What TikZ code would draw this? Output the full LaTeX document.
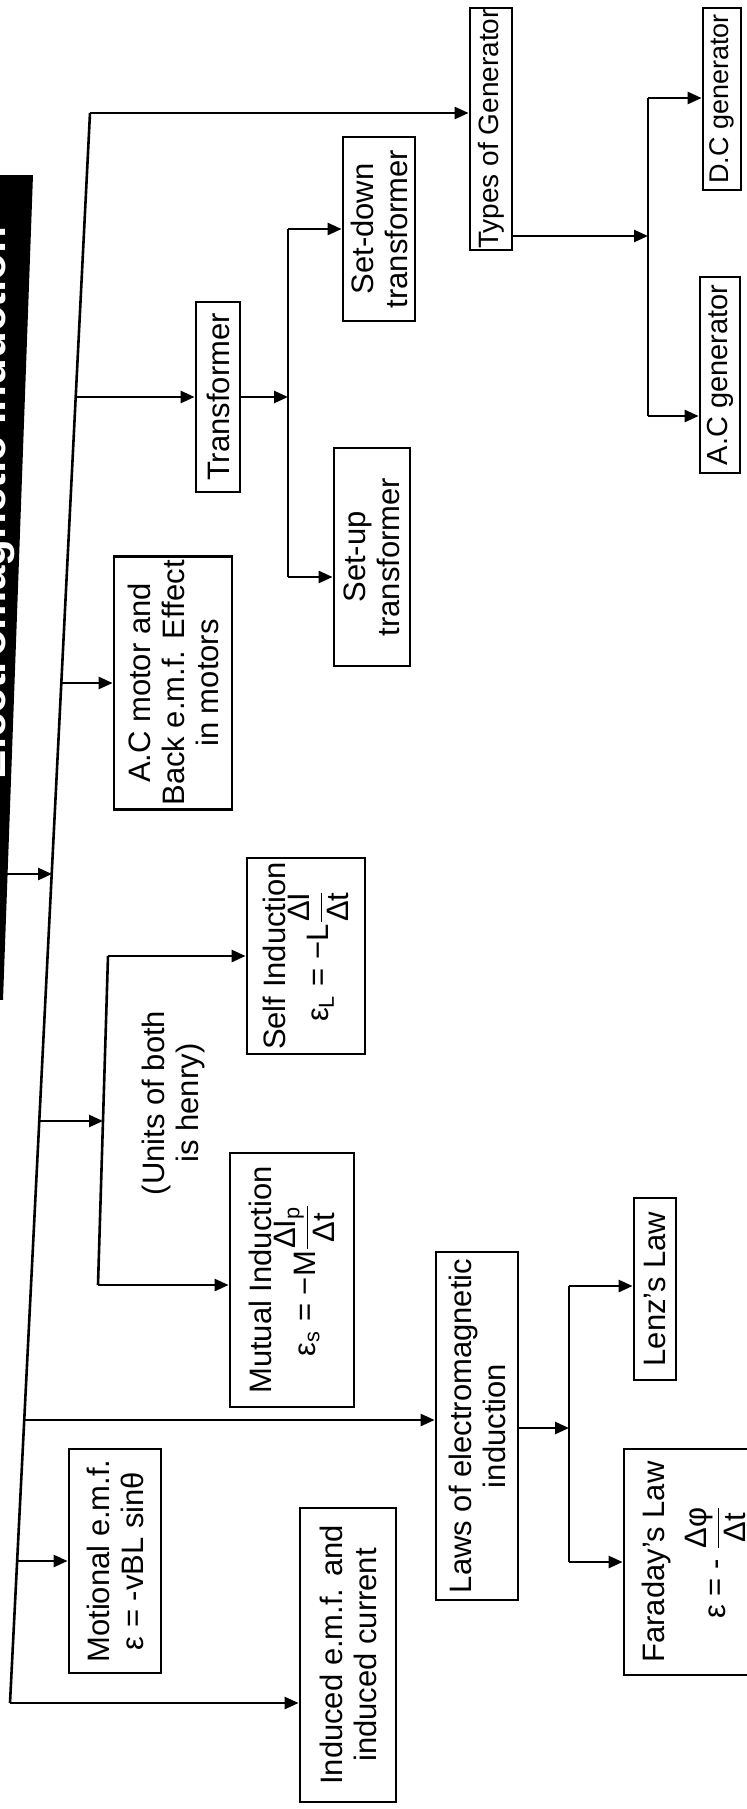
\documentclass[tikz,border=0pt]{standalone}
\usepackage{amsmath}
\usepackage{fontspec}
\setmainfont{Liberation Sans}
\usetikzlibrary{arrows.meta,calc}
\newcommand{\boxfont}{\fontsize{15.5}{17}\selectfont}
\newcommand{\dfr}[2]{\ensuremath{\dfrac{\mbox{#1}}{\mbox{#2}}}}

\begin{document}
\begin{tikzpicture}[x=0.5pt, y=-0.5pt,
  box/.style={draw, line width=1.4pt, rotate=90, align=center, inner sep=2pt, font=\boxfont},
  wire/.style={line width=1.3pt},
  arr/.style={-{Triangle[length=7pt,width=6pt]}, line width=1.3pt}
]
\useasboundingbox (0,0) rectangle (747,1809);

% title strip on the left edge, only a sliver of its text shows
\begin{scope}
\clip (0,175) -- (33,175) -- (3,1000) -- (0,1000) -- cycle;
\fill[black] (0,175) rectangle (40,1000);
\node[rotate=90, inner sep=0pt, text=white, font=\bfseries\fontsize{22}{22}\selectfont] (title) at (-6,503) {Electromagnetic Induction};
\end{scope}
\coordinate (tarr) at (6,874);

% main trunk
\coordinate (ttop) at (90,113);
\coordinate (tbot) at (10,1703);
\draw[wire] (ttop) -- (tbot);

\node[box, inner sep=0.5pt, font=\fontsize{14}{15}\selectfont, minimum width=121pt, minimum height=21pt] (tgen) at (491,129) {Types of Generator};
\node[box, inner sep=0.5pt, font=\fontsize{13.5}{15}\selectfont, minimum width=91pt, minimum height=19pt] (dcgen) at (722,99) {D.C generator};
\node[box, inner sep=0.5pt, font=\fontsize{14.5}{15}\selectfont, minimum width=98pt, minimum height=20pt] (acgen) at (720,375) {A.C generator};
\node[box, minimum width=95pt, minimum height=22pt] (trans) at (218,397) {Transformer};
\node[box, minimum width=92pt, minimum height=36pt] (setdown) at (379,229) {Set-down\\transformer};
\node[box, minimum width=109pt, minimum height=38pt] (setup) at (372,557) {Set-up\\transformer};
\node[box, minimum width=123pt, minimum height=59pt] (motor) at (173,683) {A.C motor and\\Back e.m.f. Effect\\in motors};
\node[box, minimum width=95pt, minimum height=59pt] (self) at (306,956) {Self Induction\\ε\textsubscript{L} = −L\dfr{ΔI}{Δt}};
\node[box, minimum width=127pt, minimum height=62pt] (mutual) at (292,1280) {Mutual Induction\\ε\textsubscript{s} = −M\dfr{ΔI\textsubscript{p}}{Δt}};
\node[box, minimum width=174pt, minimum height=41pt] (laws) at (477,1426) {Laws of electromagnetic\\induction};
\node[box, minimum width=91pt, minimum height=21pt] (lenz) at (655,1289) {Lenz’s Law};
\node[box, minimum width=113pt, minimum height=70pt] (faraday) at (694,1562) {Faraday’s Law\\[6pt]ε = - \dfr{Δφ}{Δt}};
\node[box, minimum width=112pt, minimum height=46pt] (motional) at (115,1561) {Motional e.m.f.\\ε = -vBL sinθ};
\node[box, minimum width=147pt, minimum height=48pt] (induced) at (348,1655) {Induced e.m.f. and\\induced current};
\node[rotate=90, align=center, font=\boxfont] (units) at (173,1103) {(Units of both\\is henry)};

% branches off the trunk
\coordinate (bT) at (76,397);
\coordinate (bM) at (61,683);
\coordinate (bTi) at (52,874);
\coordinate (bU) at (39,1121);
\coordinate (bL) at (24,1420);
\coordinate (bMo) at (17,1561);
\draw[arr] (ttop) -- (ttop -| tgen.north);
\draw[arr] (bT) -- (bT -| trans.north);
\draw[arr] (bM) -- (bM -| motor.north);
\draw[arr] (tarr) -- (bTi);
\draw[arr] (bL) -- (bL -| laws.north);
\draw[arr] (bMo) -- (bMo -| motional.north);
\draw[arr] (tbot) -- (tbot -| induced.north);

% generators
\coordinate (gtop) at (648,98);
\coordinate (gmid) at (648,236);
\coordinate (gbot) at (648,416);
\draw[arr] (tgen.south |- gmid) -- (gmid);
\draw[wire] (gtop) -- (gbot);
\draw[arr] (gtop) -- (gtop -| dcgen.north);
\draw[arr] (gbot) -- (gbot -| acgen.north);

% transformers
\coordinate (xtop) at (288,229);
\coordinate (xmid) at (288,397);
\coordinate (xbot) at (288,577);
\draw[arr] (trans.south) -- (xmid);
\draw[wire] (xtop) -- (xbot);
\draw[arr] (xtop) -- (xtop -| setdown.north);
\draw[arr] (xbot) -- (xbot -| setup.north);

% self and mutual induction
\coordinate (utop) at (108,956);
\coordinate (umid) at (103,1121);
\coordinate (ubot) at (98,1285);
\draw[wire] (utop) -- (ubot);
\draw[arr] (bU) -- (umid);
\draw[arr] (utop) -- (utop -| self.north);
\draw[arr] (ubot) -- (ubot -| mutual.north);

% laws
\coordinate (ltop) at (569,1286);
\coordinate (lmid) at (569,1428);
\coordinate (lbot) at (569,1562);
\draw[arr] (laws.south |- lmid) -- (lmid);
\draw[wire] (ltop) -- (lbot);
\draw[arr] (ltop) -- (ltop -| lenz.north);
\draw[arr] (lbot) -- (lbot -| faraday.north);
\end{tikzpicture}
\end{document}
